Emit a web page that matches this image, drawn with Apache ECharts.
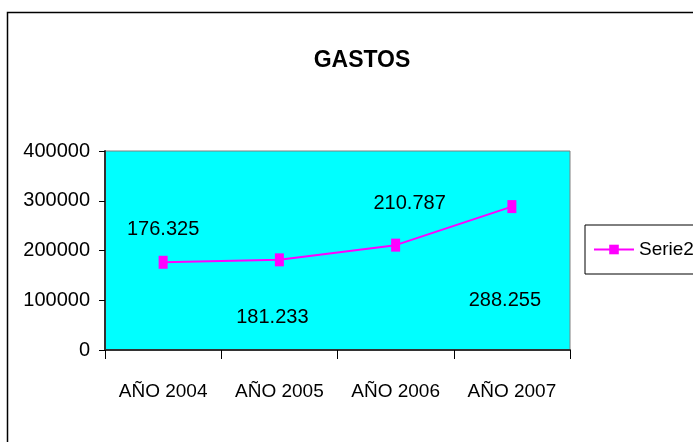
<!DOCTYPE html>
<html>
<head>
<meta charset="utf-8">
<style>
  html, body { margin: 0; padding: 0; background: #fff; }
  #chart { width: 693px; height: 442px; }
</style>
<script src="https://cdn.jsdelivr.net/npm/echarts@6/dist/echarts.min.js"></script>
</head>
<body>
<div id="chart"></div>
<script>
var categories = ['AÑO 2004', 'AÑO 2005', 'AÑO 2006', 'AÑO 2007']
var gastos = [176325, 181233, 210787, 288255]
var labels = ['176.325', '181.233', '210.787', '288.255']
var yTicks = [0, 100000, 200000, 300000, 400000]

var font = '"Liberation Sans Narrow", "Liberation Sans", Arial, sans-serif'

// label offsets as in the original (labels are not all above the point)
var labelOffsets = [[0, -33], [-7, 58], [14, -42], [-7, 94]]

var chart = echarts.init(document.getElementById('chart'))

chart.setOption({
  animation: false,
  textStyle: { fontFamily: font },
  title: {
    text: 'GASTOS',
    left: 357,
    top: 44,
    textAlign: 'center',
    textStyle: { fontFamily: font, fontSize: 23, fontWeight: 'bold', color: '#000' }
  },
  graphic: [{
    type: 'rect',
    shape: { x: 7.5, y: 12.5, width: 720, height: 460 },
    style: { fill: null, stroke: '#000', lineWidth: 1.5 },
    z: -1
  }],
  legend: {
    left: 585,
    top: 225,
    padding: [15, 20, 15, 8],
    borderColor: '#000',
    borderWidth: 1,
    itemWidth: 40,
    itemHeight: 12,
    itemGap: 4,
    textStyle: { fontFamily: font, fontSize: 19, color: '#000', padding: [0, 0, 0, 0] },
    data: ['Serie2']
  },
  grid: {
    left: 105,
    right: 123,
    top: 151,
    bottom: 92,
    show: true,
    backgroundColor: '#00FFFF',
    borderColor: '#808080',
    borderWidth: 1
  },
  xAxis: {
    type: 'category',
    data: categories,
    boundaryGap: true,
    axisLine: { lineStyle: { color: '#333', width: 2 } },
    axisTick: { show: true, length: 9, interval: 0, lineStyle: { color: '#000' } },
    axisLabel: { fontFamily: font, fontSize: 19, color: '#000', margin: 32, interval: 0 }
  },
  yAxis: {
    type: 'value',
    min: yTicks[0],
    max: yTicks[yTicks.length - 1],
    interval: 100000,
    splitLine: { show: false },
    axisLine: { show: true, lineStyle: { color: '#333', width: 2 } },
    axisTick: { show: true, length: 6, lineStyle: { color: '#000' } },
    axisLabel: {
      fontFamily: font,
      fontSize: 20,
      color: '#000',
      margin: 15,
      formatter: function (v) { return String(v) }
    }
  },
  series: [{
    name: 'Serie2',
    type: 'line',
    symbol: 'rect',
    symbolSize: [9, 13],
    color: '#FF00FF',
    lineStyle: { color: '#FF00FF', width: 2 },
    itemStyle: { color: '#FF00FF' },
    data: gastos.map(function (v, i) {
      return {
        value: v,
        label: {
          show: true,
          position: 'inside',
          offset: labelOffsets[i],
          formatter: labels[i],
          fontFamily: font,
          fontSize: 20,
          color: '#000'
        }
      }
    })
  }]
})
</script>
</body>
</html>
